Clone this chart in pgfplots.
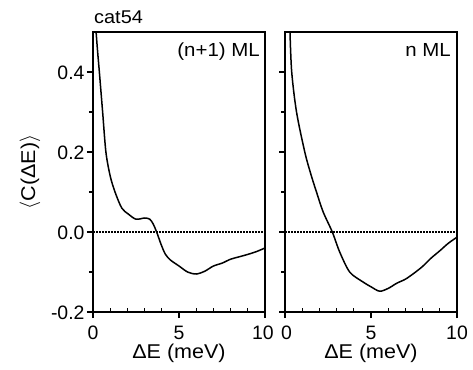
\documentclass[border=0pt]{standalone}
\usepackage{pgfplots}
\pgfplotsset{compat=1.18}
\usepackage{fontspec}
\setmainfont{Liberation Sans}
\newfontfamily\lbl{Liberation Sans}[FakeStretch=1.08]
\begin{document}
\begin{tikzpicture}
\path[use as bounding box] (0bp,0bp) rectangle (473bp,370bp);
\pgfplotsset{
  panel/.style={
    scale only axis, width=172bp, height=280bp,
    xmin=0, xmax=10, ymin=-0.2, ymax=0.5,
    xtick={0,5,10}, ytick={-0.2,0,0.2,0.4},
    minor x tick num=4, minor y tick num=1,
    xtick pos=bottom, ytick pos=left,
    tick align=outside,
    major tick length=6bp, minor tick length=4bp,
    minor x tick style={yshift=4bp},
    every tick/.style={black, line width=1.2bp},
    axis line style={line width=1.5bp},
    ticklabel style={font=\fontsize{19.5}{22}\selectfont},
    xticklabel style={anchor=base, yshift=-21bp},
    yticklabel style={anchor=base east, yshift=-7bp, xshift=1bp},
    xlabel={ΔE (meV)},
    xlabel style={font=\lbl\fontsize{20}{22}\selectfont, at={(axis description cs:0.5,-0.1643)}, anchor=base},
    clip=true,
  }
}
\begin{axis}[panel, name=left, at={(93bp,58bp)}, anchor=south west,
  ylabel={$\langle$C(ΔE)$\rangle$},
  ylabel style={font=\lbl\fontsize{20}{22}\selectfont, at={(axis description cs:-0.366,0.5)}, anchor=center},
  yticklabels={-0.2,0.0,0.2,0.4},
  xticklabels={0,5,{10\hspace*{4bp}}}]
\addplot[black, line width=1.3bp, dash pattern=on 1.5bp off 1.5bp] coordinates {(0,0) (10,0)};
\addplot[black, line width=1.5bp, smooth] coordinates {
(0.18,0.50) (0.27,0.45) (0.37,0.40) (0.56,0.30) (0.75,0.20) (1.0,0.14) (1.28,0.10)
(1.67,0.06) (2.05,0.045) (2.5,0.032) (3.0,0.035) (3.3,0.032) (3.5,0.02) (3.7,0.0)
(3.95,-0.03) (4.2,-0.055) (4.5,-0.07) (5.0,-0.085) (5.5,-0.10) (6.0,-0.105)
(6.5,-0.098) (7.0,-0.085) (7.5,-0.078) (8.0,-0.068) (8.5,-0.062) (9.0,-0.056) (9.5,-0.049) (10.0,-0.04)};
\node[anchor=base east, font=\lbl\fontsize{19}{21}\selectfont, inner sep=0pt, xshift=-5bp, yshift=-24bp] at (rel axis cs:1,1) {(n+1) ML};
\end{axis}
\node[anchor=base west, font=\lbl\fontsize{18.5}{21}\selectfont, inner sep=0pt, xshift=1bp, yshift=9bp] at (left.north west) {cat54};
\begin{axis}[panel, at={(285bp,58bp)}, anchor=south west,
  yticklabels={}, xticklabels={{\hspace*{3bp}0},5,10}]
\addplot[black, line width=1.3bp, dash pattern=on 1.5bp off 1.5bp] coordinates {(0,0) (10,0)};
\addplot[black, line width=1.5bp, smooth] coordinates {
(0.29,0.50) (0.39,0.40) (0.67,0.30) (1.15,0.20) (1.5,0.145) (1.83,0.10) (2.22,0.05) (2.75,0.0)
(3.18,-0.05) (3.76,-0.10) (4.5,-0.124) (5.0,-0.137) (5.5,-0.148) (6.0,-0.141)
(6.5,-0.128) (7.0,-0.118) (7.5,-0.103) (8.0,-0.086) (8.5,-0.065) (9.0,-0.047)
(9.5,-0.028) (10.0,-0.013)};
\node[anchor=base east, font=\lbl\fontsize{19}{21}\selectfont, inner sep=0pt, xshift=-6bp, yshift=-24bp] at (rel axis cs:1,1) {n ML};
\end{axis}
\end{tikzpicture}
\end{document}
